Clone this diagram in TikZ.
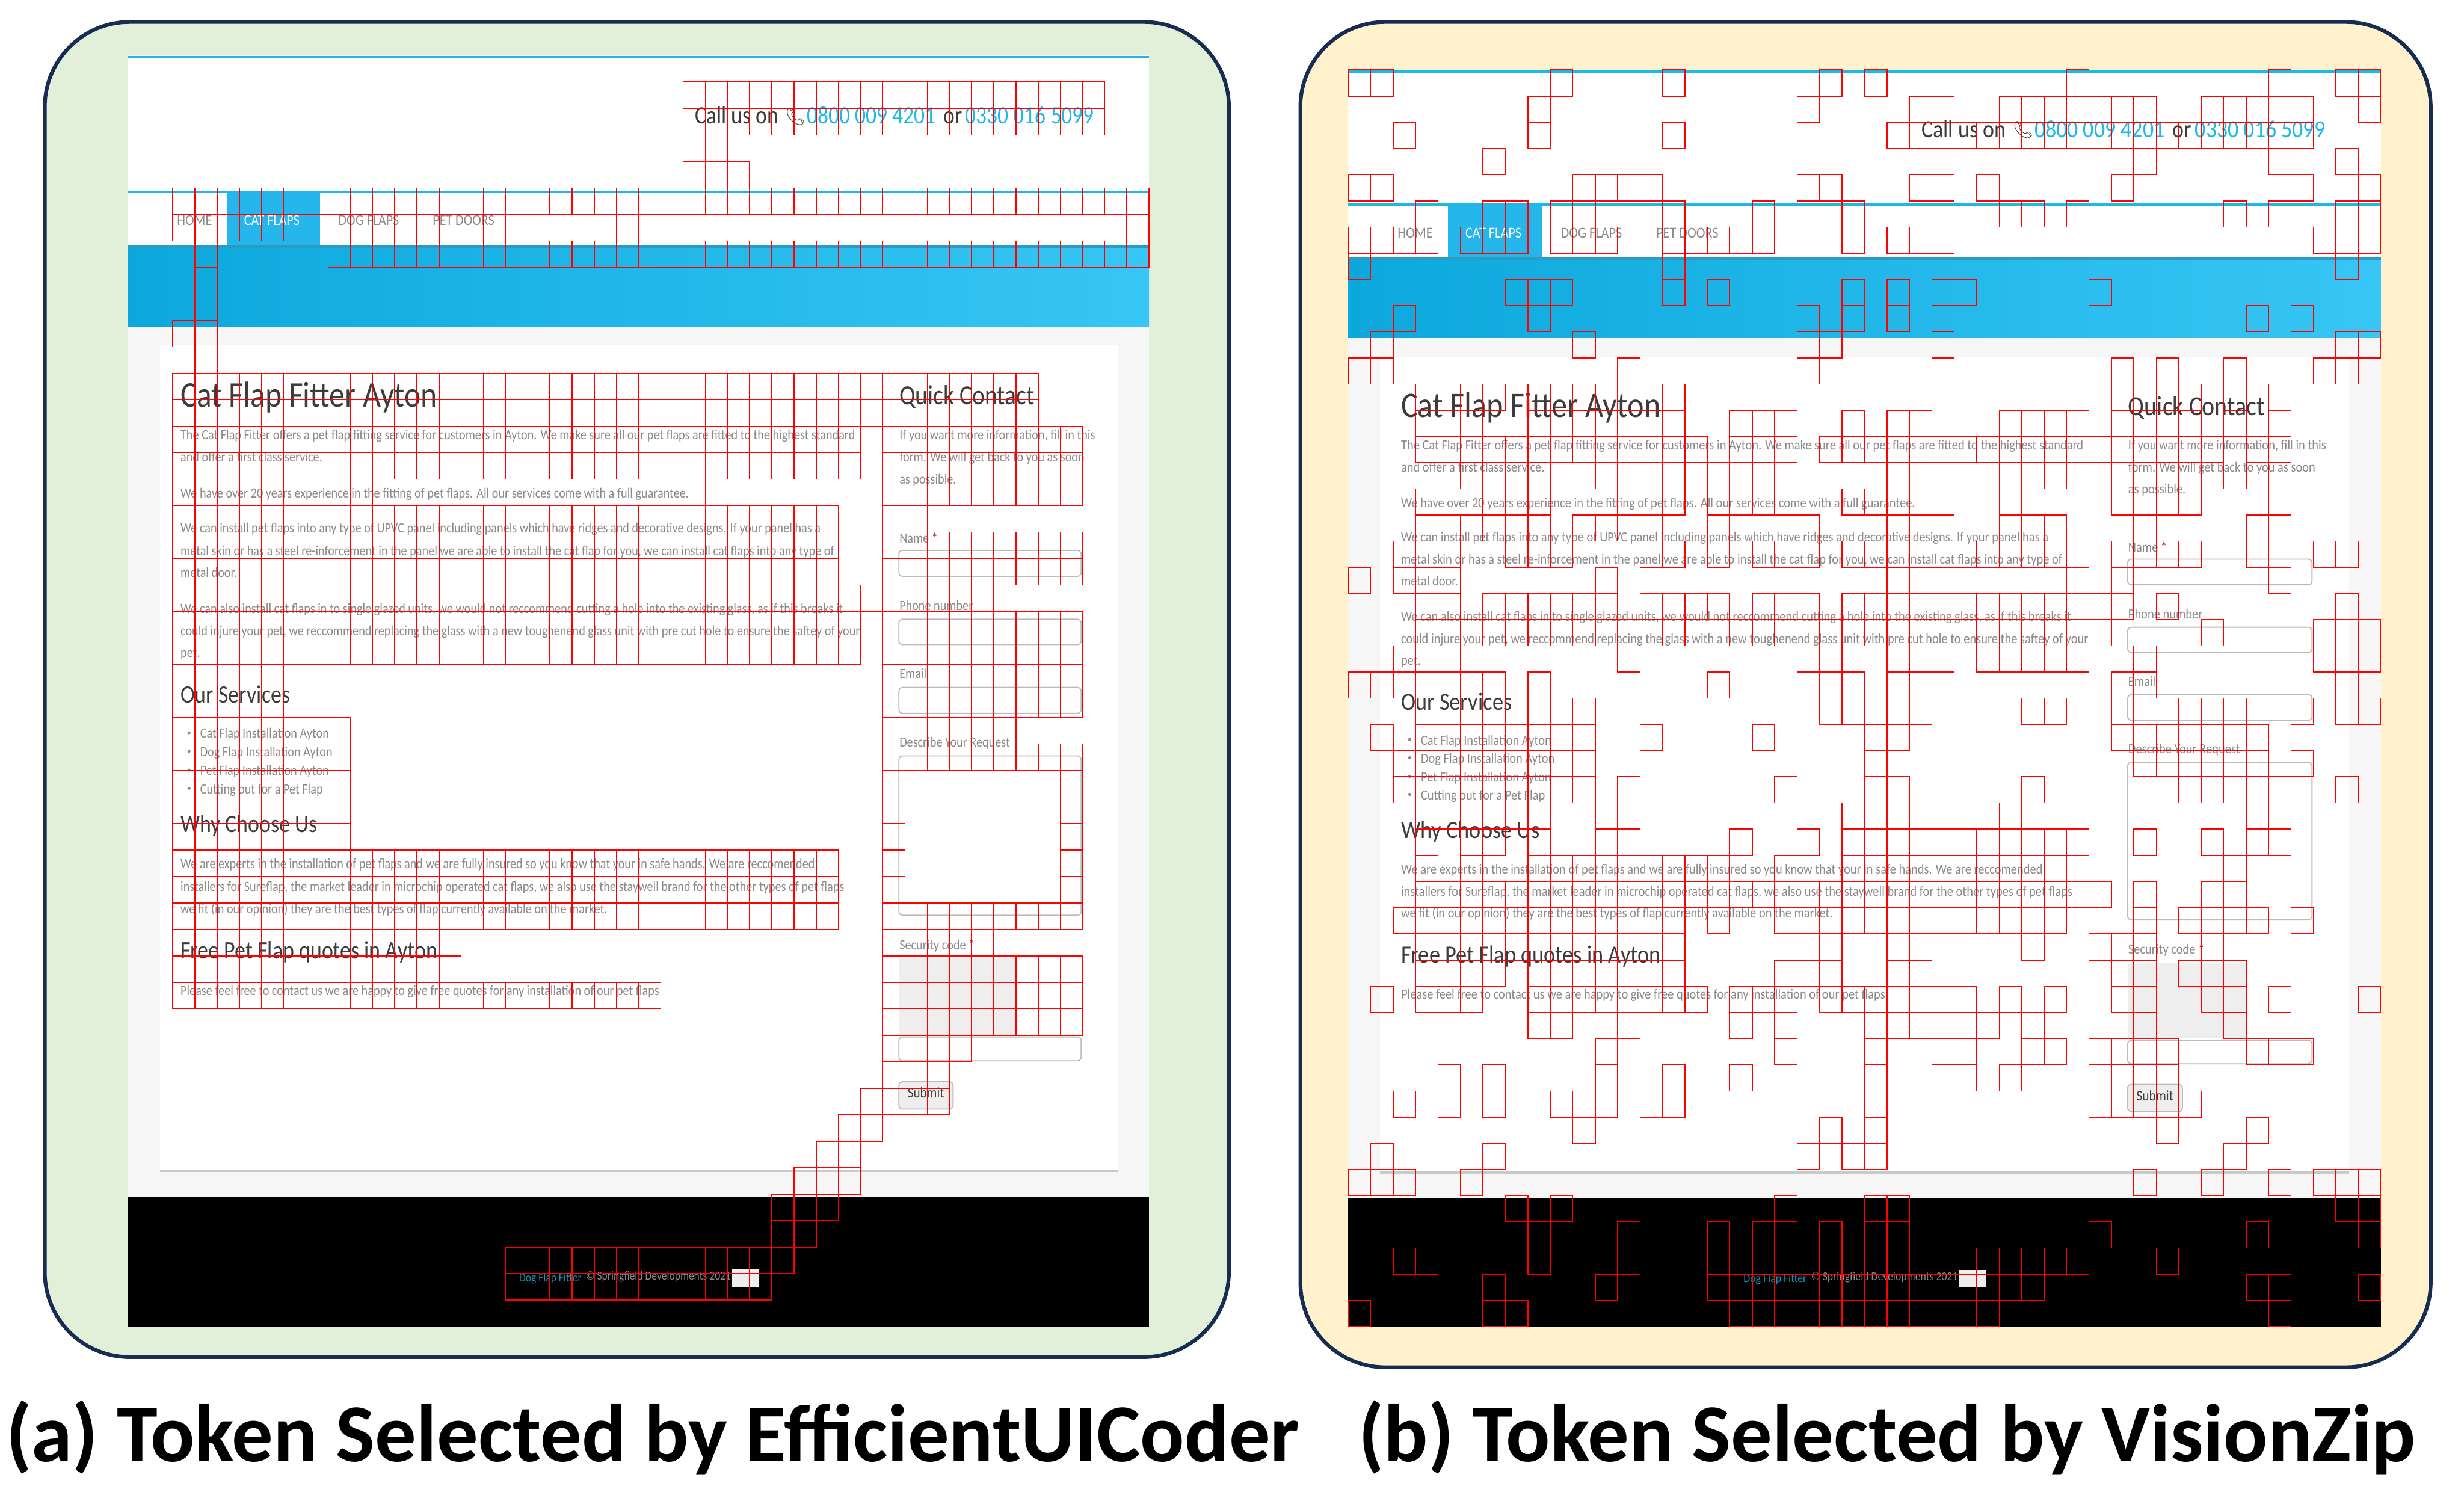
\documentclass[tikz,border=0pt]{standalone}
\usepackage{fontspec}
\setmainfont{Carlito}
\newfontfamily\pagefont[FakeStretch=0.86]{Carlito}
\newfontfamily\symfont{Noto Emoji}
\usetikzlibrary{positioning}
\definecolor{framenavy}{HTML}{172C51}
\definecolor{panelgreen}{HTML}{E2EFD9}
\definecolor{panelyellow}{HTML}{FFF2CC}
\definecolor{sitecyan}{HTML}{1CB8E6}
\definecolor{sitetab}{HTML}{25B6EC}
\definecolor{sitestrip}{HTML}{2A9CC4}
\definecolor{bandleft}{HTML}{0CA8DC}
\definecolor{bandright}{HTML}{37C6F5}
\definecolor{pagegrey}{HTML}{F6F6F6}
\definecolor{bodygrey}{HTML}{8A8A8A}
\definecolor{headgrey}{HTML}{3C3C3C}
\definecolor{boxgrey}{HTML}{BBBBBB}
\definecolor{capgrey}{HTML}{EEEEEE}
\tikzset{
  panel/.style={draw=framenavy, line width=1.2pt, rounded corners=27pt},
  caption/.style={anchor=base west, inner sep=0pt, font=\fontsize{26.2}{28}\selectfont\bfseries},
  token/.style={draw=red, line width=0.3pt},
  bodytext/.style={anchor=mid west, inner sep=0pt, transform shape, yshift=0.7pt, text=bodygrey, font=\pagefont\fontsize{4.5}{5}\selectfont},
  headtext/.style={anchor=mid west, inner sep=0pt, transform shape, text=headgrey, font=\pagefont\fontsize{11.5}{12}\selectfont},
  subhead/.style={anchor=mid west, inner sep=0pt, transform shape, text=headgrey, font=\pagefont\fontsize{8}{9}\selectfont},
  navtext/.style={anchor=mid west, inner sep=0pt, transform shape, yshift=0.6pt, text=bodygrey, font=\pagefont\fontsize{4.9}{5}\selectfont},
  phonetext/.style={anchor=mid west, inner sep=0pt, transform shape, text=headgrey, font=\pagefont\fontsize{7.9}{8}\selectfont},
  fieldbox/.style={draw=boxgrey, line width=0.35pt, rounded corners=1.2pt, fill=white}
}

% one row of selected tokens: row number, then columns or first/last ranges
\newcommand{\tokenrow}[2]{%
  \foreach \colA/\colB in {#2}{%
    \foreach \col in {\colA,...,\colB}{%
      \draw[token] ({81.7+\col*14.12},{35.3+#1*16.85}) rectangle ++(14.12,16.85);
    }
  }%
}

% the web page screenshot, in the coordinates of the left panel
\newcommand{\webpage}{%
  \fill[white] (81.7,35.3) rectangle (731.2,844.2);
  \fill[sitecyan] (81.7,35.5) rectangle (731.2,37.1);
  \fill[sitecyan] (81.7,121.3) rectangle (731.2,123);
  % Menu and band
  \fill[sitetab] (144.3,123) rectangle (203.5,156);
  \shade[left color=bandleft, right color=bandright] (81.7,156) rectangle (731.2,208);
  \fill[sitestrip] (81.7,156) rectangle (731.2,157.7);
  \fill[pagegrey] (81.7,208) rectangle (731.2,761.6);
  \fill[white] (101.7,219.8) rectangle (711.2,744);
  \fill[boxgrey!80] (101.7,744) rectangle (711.2,745.7);
  \fill[black] (81.7,761.6) rectangle (731.2,844.2);
  % Phone line
  \node[phonetext] (callus) at (442,74) {Call us on};
  \node[phonetext, font=\symfont\fontsize{5.4}{7}\selectfont] (phoneicon) at (499,73) {📞};
  \node[phonetext, text=sitecyan] (phoneone) at (513,74) {0800 009 4201};
  \node[phonetext] (phoneor) at (600,74) {or};
  \node[phonetext, text=sitecyan] (phonetwo) at (614,74) {0330 016 5099};
  % Menu
  \node[navtext] (navhome) at (112.3,139.7) {HOME};
  \node[navtext, text=white] (navcat) at (155,139.7) {CAT FLAPS};
  \node[navtext] (navdog) at (215,139.7) {DOG FLAPS};
  \node[navtext] (navpet) at (275,139.7) {PET DOORS};
  % Main column
  \node[headtext] (title) at (114.5,254) {Cat Flap Fitter Ayton};
  \node[bodytext] (introa) at (114.5,276.3) {The Cat Flap Fitter offers a pet flap fitting service for customers in Ayton. We make sure all our pet flaps are fitted to the highest standard};
  \node[bodytext] (introb) at (114.5,290.6) {and offer a first class service.};
  \node[bodytext] (yearsa) at (114.5,313.4) {We have over 20 years experience in the fitting of pet flaps. All our services come with a full guarantee.};
  \node[bodytext] (upvca) at (114.5,335.6) {We can install pet flaps into any type of UPVC panel including panels which have ridges and decorative designs. If your panel has a};
  \node[bodytext] (upvcb) at (114.5,350) {metal skin or has a steel re-inforcement in the panel we are able to install the cat flap for you, we can install cat flaps into any type of};
  \node[bodytext] (upvcc) at (114.5,364) {metal door.};
  \node[bodytext] (glassa) at (114.5,386.7) {We can also install cat flaps in to single glazed units, we would not reccommend cutting a hole into the existing glass, as if this breaks it};
  \node[bodytext] (glassb) at (114.5,401) {could injure your pet, we reccommend replacing the glass with a new toughenend glass unit with pre cut hole to ensure the saftey of your};
  \node[bodytext] (glassc) at (114.5,415) {pet.};
  \node[subhead] (services) at (114.5,442.5) {Our Services};
  \foreach \liney in {466.3,478,490,501.6}{
    \fill[bodygrey] (120.3,\liney) circle (1);
  }
  \node[bodytext] (servicea) at (127,466.3) {Cat Flap Installation Ayton};
  \node[bodytext] (serviceb) at (127,478) {Dog Flap Installation Ayton};
  \node[bodytext] (servicec) at (127,490) {Pet Flap Installation Ayton};
  \node[bodytext] (serviced) at (127,501.6) {Cutting out for a Pet Flap};
  \node[subhead] (whychoose) at (114.5,525) {Why Choose Us};
  \node[bodytext] (expertsa) at (114.5,549.3) {We are experts in the installation of pet flaps and we are fully insured so you know that your in safe hands. We are reccomended};
  \node[bodytext] (expertsb) at (114.5,563.6) {installers for Sureflap, the market leader in microchip operated cat flaps, we also use the staywell brand for the other types of pet flaps};
  \node[bodytext] (expertsc) at (114.5,577.8) {we fit (in our opinion) they are the best types of flap currently available on the market.};
  \node[subhead] (freequotes) at (114.5,605.3) {Free Pet Flap quotes in Ayton};
  \node[bodytext] (pleasefeel) at (114.5,630) {Please feel free to contact us we are happy to give free quotes for any installation of our pet flaps};
  % Contact column
  \node[subhead, font=\pagefont\fontsize{8.8}{9}\selectfont] (quick) at (572,252.8) {Quick Contact};
  \node[bodytext] (morea) at (572,276.3) {If you want more information, fill in this};
  \node[bodytext] (moreb) at (572,290.6) {form. We will get back to you as soon};
  \node[bodytext] (morec) at (572,304.7) {as possible.};
  \node[bodytext] (labelname) at (572,342) {Name \textcolor{red!75!black}{*}};
  \draw[fieldbox] (572,350.2) rectangle (688,366.7);
  \node[bodytext] (labelphone) at (572,385) {Phone number};
  \draw[fieldbox] (572,394) rectangle (688,410.2);
  \node[bodytext] (labelemail) at (572,428.4) {Email};
  \draw[fieldbox] (572,437.4) rectangle (688,453.9);
  \node[bodytext] (labelrequest) at (572,472) {Describe Your Request};
  \draw[fieldbox] (572,481) rectangle (688,582.4);
  \node[bodytext] (labelcode) at (572,601) {Security code \textcolor{red!75!black}{*}};
  \fill[capgrey] (572,609.7) rectangle (646.5,658.8);
  \draw[fieldbox] (572,659.8) rectangle (688,675);
  \draw[fieldbox, fill=capgrey] (572,688.3) rectangle (606.5,705.7);
  \node[navtext, anchor=center, text=headgrey, font=\pagefont\fontsize{4.7}{5}\selectfont] (submit) at (589.2,696.5) {Submit};
  % Footer
  \node[navtext, text=sitecyan!80!black, font=\pagefont\fontsize{3.9}{5}\selectfont] (footdog) at (330,812) {Dog Flap Fitter};
  \node[navtext, font=\pagefont\fontsize{3.9}{5}\selectfont, right=1pt of footdog] (footcopy) {© Springfield Developments 2021};
  \fill[capgrey] (466,807.7) rectangle (483,818.8);
}

\begin{document}
\begin{tikzpicture}[x=0.5pt,y=-0.5pt]
\useasboundingbox (0,0) rectangle (1568,955);

% Left panel
\draw[panel, fill=panelgreen] (28.5,14) rectangle (782,863.5);
\begin{scope}[name prefix=a-]
\webpage
\tokenrow{1}{25/43}
\tokenrow{2}{25/43}
\tokenrow{3}{25/26}
\tokenrow{4}{26/27}
\tokenrow{5}{2/45}
\tokenrow{6}{2/16,22/23,45}
\tokenrow{7}{3,9/45}
\tokenrow{8}{3}
\tokenrow{9}{3}
\tokenrow{10}{2/3}
\tokenrow{11}{3}
\tokenrow{12}{2/40}
\tokenrow{13}{2/40}
\tokenrow{14}{2/32,34/42}
\tokenrow{15}{2/32,34/42}
\tokenrow{16}{2/10,25,34/42}
\tokenrow{17}{2/31,34/35}
\tokenrow{18}{2/31,34/42}
\tokenrow{19}{2/31,34/42}
\tokenrow{20}{2/32,34/38}
\tokenrow{21}{2/42}
\tokenrow{22}{2/32,34/42}
\tokenrow{23}{2/7,34/42}
\tokenrow{24}{2/7,34/42}
\tokenrow{25}{2/9,34/39}
\tokenrow{26}{2/9,34/42}
\tokenrow{27}{2/9,34,42}
\tokenrow{28}{2/9,34,42}
\tokenrow{29}{2/9,34,42}
\tokenrow{30}{2/31,34,42}
\tokenrow{31}{2/31,34,42}
\tokenrow{32}{2/31,34/42}
\tokenrow{33}{2/14,34/38}
\tokenrow{34}{2/14,34/42}
\tokenrow{35}{2/23,34/42}
\tokenrow{36}{34/42}
\tokenrow{37}{34/37}
\tokenrow{38}{34/36}
\tokenrow{39}{33/36}
\tokenrow{40}{32/33}
\tokenrow{41}{31/32}
\tokenrow{42}{30/32}
\tokenrow{43}{29/31}
\tokenrow{44}{29/30}
\tokenrow{45}{17/29}
\tokenrow{46}{17/28}
\end{scope}

% Right panel
\draw[panel, fill=panelyellow] (827.5,14) rectangle (1546.8,870);
\begin{scope}[name prefix=b-, shift={(858,44.5)}, xscale=1.0115, yscale=0.9886, shift={(-81.7,-35.3)}]
\webpage
\tokenrow{0}{0/1,9,14,21,23,32,41,44/45}
\tokenrow{1}{8,20,25/26,29/35,38/42,45}
\tokenrow{2}{2,8,14,24/42}
\tokenrow{3}{6,35,41,44}
\tokenrow{4}{0/1,10/13,20/21,25/26,28,34,42,45}
\tokenrow{5}{3,6/7,9/10,14,18,22,29/30,32,39,41,44/45}
\tokenrow{6}{0/3,5/7,9/11,14/18,22,24/25,43/45}
\tokenrow{7}{0,14,26,44}
\tokenrow{8}{7/9,14,16,22,24,26/27,33}
\tokenrow{9}{2,8,20,22,24,40,42}
\tokenrow{10}{1,10,20/21,26,44/45}
\tokenrow{11}{0/1,12,20,34,36,39,43/44}
\tokenrow{12}{3/6,8/14,34/37,39,41}
\tokenrow{13}{3/5,8/14,17/19,22,24/25,29/32,34,36/37,39,41}
\tokenrow{14}{3/15,17/19,21/38,40/41}
\tokenrow{15}{4/8,11/12,14/18,24,29/30,32,34/38,40/41}
\tokenrow{16}{3,6/8,12,14,16/19,22/24,26,29,34/37,41}
\tokenrow{17}{3/8,10/13,16,20,24/26,29/31,35,40}
\tokenrow{18}{2/4,7/9,13/14,16,18/20,22/31,34/37,40,43/44}
\tokenrow{19}{0,2/4,11,24/26,32,34,41}
\tokenrow{20}{3/4,6/11,13/16,18/20,22/34,36,44}
\tokenrow{21}{3/10,12/14,17/33,38,43,45}
\tokenrow{22}{2/4,12,20/21,24/26,28/32,35,43,45}
\tokenrow{23}{0/1,3/6,8,16,20/22,24,34/35,44}
\tokenrow{24}{3/6,8/10,21/25,30/31,34,37/39,42,44/45}
\tokenrow{25}{1,3/10,13,18,23/24,34/40}
\tokenrow{26}{2/10,23,35/40,42}
\tokenrow{27}{2/8,10,12,19,23/24,30,37/41,44}
\tokenrow{28}{3/8,11,22/25,29,40}
\tokenrow{29}{3,5/6,8,11/12,17,20,22/32,35,38,40/41}
\tokenrow{30}{3,5,8/16,19,22/32,39}
\tokenrow{31}{3/33,35,38/39}
\tokenrow{32}{2/14,16,19/31,35,37/40,42}
\tokenrow{33}{3/14,20/21,24,30,33/35,38}
\tokenrow{34}{3/6,8/14,19/21,24/25,34/35,37/39}
\tokenrow{35}{1,3/5,8/15,17/19,21/27,29,31,34/35,38/39,41,45}
\tokenrow{36}{8/9,12,17,19,23/28,30,35,39}
\tokenrow{37}{11,19,23,26/27,30/31,33/36,40/42}
\tokenrow{38}{4,6,11,14,17,23,27,29,34/36}
\tokenrow{39}{2,4,6,9,11,13/14,23,33/37}
\tokenrow{40}{10,21,23,36,40}
\tokenrow{41}{1,6,20,22,23,39}
\tokenrow{42}{0/2,5,35,38,41,43/45}
\tokenrow{43}{7,9,19,23/24,44/45}
\tokenrow{44}{8,12,16,18/19,21,23/24,33,40,45}
\tokenrow{45}{2/3,8,12,16/32,36}
\tokenrow{46}{6,11,16/30,40/41,45}
\tokenrow{47}{0,6/7,17/28,41}
\end{scope}

% Captions
\node[caption] (captiona) at (3.5,930) {(a) Token Selected by EfficientUICoder};
\node[caption] (captionb) at (864,930) {(b) Token Selected by VisionZip};
\end{tikzpicture}
\end{document}
